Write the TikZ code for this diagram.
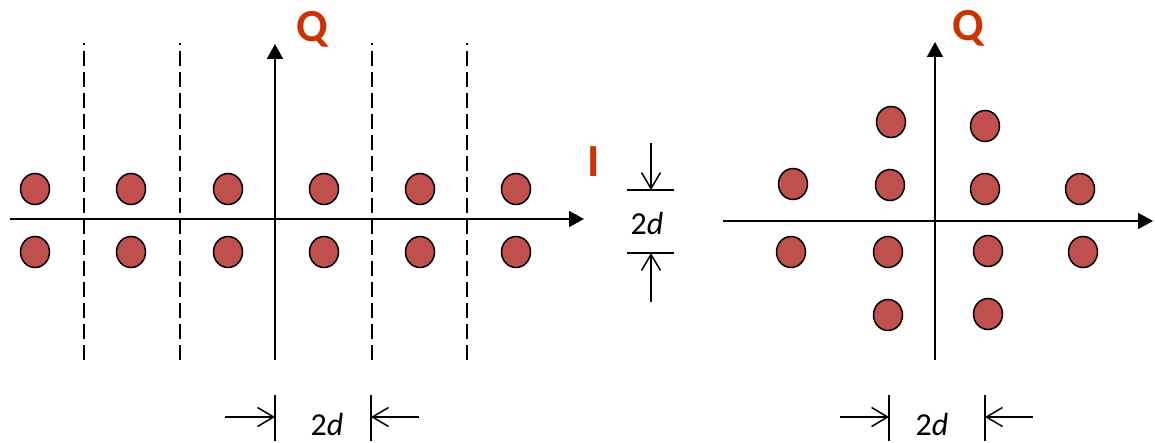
\documentclass[tikz,border=0pt]{standalone}
\usepackage{fontspec}
\setmainfont{Carlito}
\usetikzlibrary{arrows.meta,shapes.geometric}
\definecolor{dotred}{HTML}{C0504D}
\definecolor{labred}{HTML}{CC3300}
\tikzset{
  sym/.style={ellipse,draw=black,line width=1.5pt,fill=dotred,minimum width=29pt,minimum height=31pt,inner sep=0pt},
  axis/.style={line width=1.8pt,-{Triangle[length=15pt,width=16pt]}},
  divider/.style={line width=1.6pt,dash pattern=on 15pt off 6pt,dash phase=13pt},
  bar/.style={line width=1.5pt},
  dimarrow/.style={line width=1.5pt,-{Straight Barb[length=16pt,width=19pt,line width=1.5pt]}},
  axlabel/.style={text=labred,font=\fontsize{46}{46}\selectfont\bfseries,inner sep=0pt},
  dimlabel/.style={font=\fontsize{32}{32}\selectfont,inner sep=0pt}
}
\begin{document}
\begin{tikzpicture}[x=1pt,y=-1pt]
\useasboundingbox (0,0) rectangle (1155,443);
% ---------- left diagram ----------
\coordinate (LIs) at (10,219);
\coordinate (LIe) at (584,219);
\coordinate (LQs) at (275,360);
\coordinate (LQe) at (275,44);
\draw[axis] (LIs) -- (LIe);
\draw[axis] (LQs) -- (LQe);
\node[axlabel] (LQ) at (312,29) {Q};
\node[axlabel] (LI) at (594,162) {I};
\foreach \i/\x in {1/84,2/180,3/372,4/467}{
  \coordinate (dt\i) at (\x,43);
  \coordinate (db\i) at (\x,360);
  \draw[divider] (dt\i) -- (db\i);
}
\foreach \i/\x in {1/35,2/131,3/228,4/324,5/420,6/516}{
  \node[sym] (lu\i) at (\x,189) {};
  \node[sym] (ld\i) at (\x,252) {};
}
% vertical dimension
\coordinate (vt1) at (627,190);
\coordinate (vt2) at (674,190);
\coordinate (vb1) at (627,253);
\coordinate (vb2) at (674,253);
\coordinate (va1) at (651,143);
\coordinate (va1e) at (651,190);
\coordinate (va2) at (651,302);
\coordinate (va2e) at (651,253);
\draw[bar] (vt1) -- (vt2);
\draw[bar] (vb1) -- (vb2);
\draw[dimarrow] (va1) -- (va1e);
\draw[dimarrow] (va2) -- (va2e);
\node[dimlabel] (vlab) at (647,224) {2\textit{d}};
% bottom dimension left
\coordinate (bl1t) at (275,395);
\coordinate (bl1b) at (275,441);
\coordinate (bl2t) at (371,395);
\coordinate (bl2b) at (371,441);
\coordinate (bla1) at (225,417);
\coordinate (bla1e) at (275,417);
\coordinate (bla2) at (419,417);
\coordinate (bla2e) at (371,417);
\draw[bar] (bl1t) -- (bl1b);
\draw[bar] (bl2t) -- (bl2b);
\draw[dimarrow] (bla1) -- (bla1e);
\draw[dimarrow] (bla2) -- (bla2e);
\node[dimlabel] (blab) at (327,424) {2\textit{d}};
% ---------- right diagram ----------
\coordinate (RIs) at (723,221);
\coordinate (RIe) at (1153,221);
\coordinate (RQs) at (935,360);
\coordinate (RQe) at (935,42);
\draw[axis] (RIs) -- (RIe);
\draw[axis] (RQs) -- (RQe);
\node[axlabel] (RQ) at (968,28) {Q};
\node[sym] (r1) at (891,122) {};
\node[sym] (r2) at (793,184) {};
\node[sym] (r3) at (890,185) {};
\node[sym] (r4) at (985,126) {};
\node[sym] (r5) at (985,189) {};
\node[sym] (r6) at (1080,189) {};
\node[sym] (r7) at (791,252) {};
\node[sym] (r8) at (888,252) {};
\node[sym] (r9) at (888,315) {};
\node[sym] (r10) at (988,251) {};
\node[sym] (r11) at (988,314) {};
\node[sym] (r12) at (1083,252) {};
% bottom dimension right
\coordinate (br1t) at (889,395);
\coordinate (br1b) at (889,441);
\coordinate (br2t) at (985,395);
\coordinate (br2b) at (985,441);
\coordinate (bra1) at (840,417);
\coordinate (bra1e) at (889,417);
\coordinate (bra2) at (1033,417);
\coordinate (bra2e) at (985,417);
\draw[bar] (br1t) -- (br1b);
\draw[bar] (br2t) -- (br2b);
\draw[dimarrow] (bra1) -- (bra1e);
\draw[dimarrow] (bra2) -- (bra2e);
\node[dimlabel] (brlab) at (932,424) {2\textit{d}};
\end{tikzpicture}
\end{document}
